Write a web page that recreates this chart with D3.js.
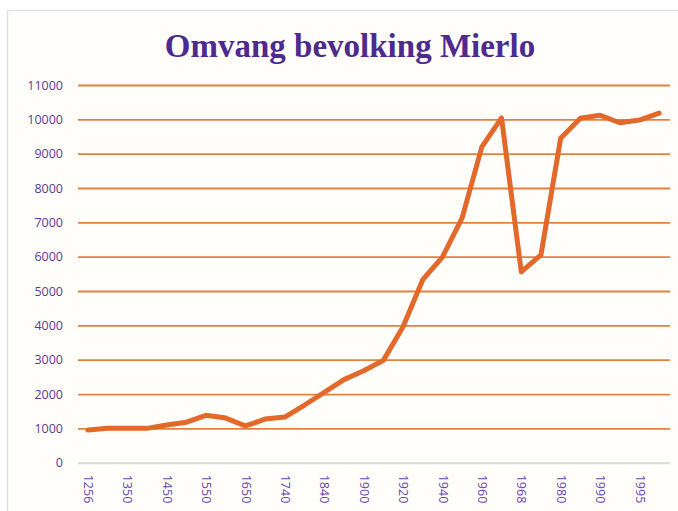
<!DOCTYPE html>
<html>
<head>
<meta charset="utf-8">
<script src="https://cdn.jsdelivr.net/npm/d3@7"></script>
<style>
  html, body { margin: 0; padding: 0; background: #ffffff; }
  svg { display: block; }
</style>
</head>
<body>
<svg id="chart" width="678" height="511"></svg>
<script>
const title = "Omvang bevolking Mierlo";
const years = ["1256","1300","1350","1400","1450","1500","1550","1600","1650","1700",
               "1740","1800","1840","1870","1900","1910","1920","1930","1940","1950",
               "1960","1965","1968","1970","1980","1985","1990","1993","1995","2000"];
const population = [950,1000,1000,1000,1100,1180,1380,1300,1070,1270,
                    1330,1680,2050,2420,2680,2980,3960,5330,5990,7130,
                    9200,10040,5560,6050,9450,10030,10120,9900,9980,10180];
const yTicks = [0,1000,2000,3000,4000,5000,6000,7000,8000,9000,10000,11000];

const svg = d3.select("#chart");
const W = 678, H = 511;

// frame
svg.append("rect").attr("x",0).attr("y",0).attr("width",W).attr("height",H).attr("fill","#ffffff");
svg.append("rect").attr("x",7.5).attr("y",10.5).attr("width",W+10).attr("height",H+10)
   .attr("fill","#fffefb").attr("stroke","#e2e2e2").attr("stroke-width",1.5);

const plot = {left: 78, right: 669, top: 85, bottom: 462.7};

const x = d3.scalePoint().domain(years).range([plot.left, plot.right]).padding(0.5);
const y = d3.scaleLinear().domain([0, 11000]).range([plot.bottom, plot.top]);

// title
svg.append("text")
   .attr("x", 350).attr("y", 57)
   .attr("text-anchor","middle")
   .attr("font-family","'Liberation Serif', 'DejaVu Serif', serif")
   .attr("font-weight","bold")
   .attr("font-size", 33)
   .attr("fill","#4e2a8e")
   .text(title);

// gridlines + y labels
const yAxis = d3.axisLeft(y).tickValues(yTicks).tickSize(0).tickPadding(0).tickFormat(d3.format("d"));
const gy = svg.append("g").attr("transform", `translate(${plot.left},0)`).call(yAxis);
gy.select(".domain").remove();
gy.selectAll(".tick text")
  .attr("x", -15)
  .attr("font-family","'Open Sans', 'Liberation Sans', sans-serif")
  .attr("font-size", 12.5)
  .attr("fill","#5b3a99");
gy.selectAll(".tick line")
  .attr("x2", plot.right - plot.left + 1)
  .attr("stroke", d => d === 0 ? "#d9d9d9" : "#e6803f")
  .attr("stroke-width", d => d === 0 ? 2 : 1.8);

// x axis labels (every other)
const xAxis = d3.axisBottom(x).tickSize(0).tickPadding(0)
  .tickFormat((d,i) => i % 2 === 0 ? d : "");
const gx = svg.append("g").attr("transform", `translate(0,${plot.bottom})`).call(xAxis);
gx.select(".domain").remove();
gx.selectAll(".tick text")
  .attr("transform","translate(0,12) rotate(90)")
  .attr("text-anchor","start")
  .attr("x", 0).attr("y", 0).attr("dy","0.35em")
  .attr("font-family","'Open Sans', 'Liberation Sans', sans-serif")
  .attr("font-size", 12.5)
  .attr("fill","#6a45b0");

// line
const line = d3.line().x((d,i) => x(years[i])).y(d => y(d));
svg.append("path")
   .datum(population)
   .attr("d", line)
   .attr("fill","none")
   .attr("stroke","#e2692a")
   .attr("stroke-width", 5)
   .attr("stroke-linejoin","round")
   .attr("stroke-linecap","round");
</script>
</body>
</html>
